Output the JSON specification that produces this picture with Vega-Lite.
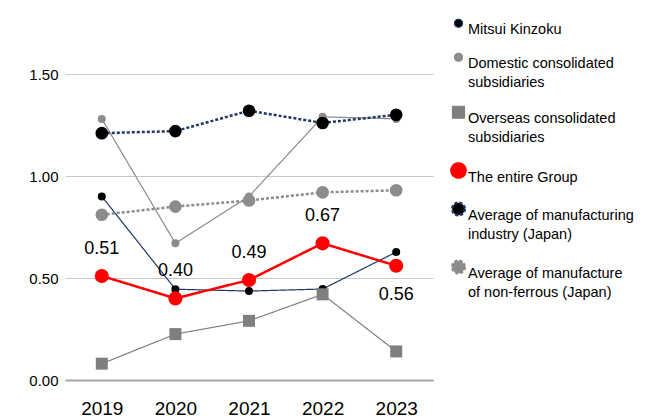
{
  "$schema": "https://vega.github.io/schema/vega-lite/v6.json",
  "width": 368,
  "height": 306,
  "autosize": {"type": "none"},
  "padding": {"left": 65, "top": 74, "right": 217, "bottom": 36},
  "background": "white",
  "config": {
    "view": {"stroke": null},
    "font": "Liberation Sans"
  },
  "data": {
    "values": [
      {"series": "Mitsui Kinzoku", "year": "2019", "value": 0.90},
      {"series": "Mitsui Kinzoku", "year": "2020", "value": 0.445},
      {"series": "Mitsui Kinzoku", "year": "2021", "value": 0.436},
      {"series": "Mitsui Kinzoku", "year": "2022", "value": 0.446},
      {"series": "Mitsui Kinzoku", "year": "2023", "value": 0.627},
      {"series": "Domestic consolidated subsidiaries", "year": "2019", "value": 1.28},
      {"series": "Domestic consolidated subsidiaries", "year": "2020", "value": 0.67},
      {"series": "Domestic consolidated subsidiaries", "year": "2021", "value": 0.90},
      {"series": "Domestic consolidated subsidiaries", "year": "2022", "value": 1.29},
      {"series": "Domestic consolidated subsidiaries", "year": "2023", "value": 1.28},
      {"series": "Overseas consolidated subsidiaries", "year": "2019", "value": 0.08},
      {"series": "Overseas consolidated subsidiaries", "year": "2020", "value": 0.225},
      {"series": "Overseas consolidated subsidiaries", "year": "2021", "value": 0.29},
      {"series": "Overseas consolidated subsidiaries", "year": "2022", "value": 0.42},
      {"series": "Overseas consolidated subsidiaries", "year": "2023", "value": 0.14},
      {"series": "The entire Group", "year": "2019", "value": 0.51},
      {"series": "The entire Group", "year": "2020", "value": 0.40},
      {"series": "The entire Group", "year": "2021", "value": 0.49},
      {"series": "The entire Group", "year": "2022", "value": 0.67},
      {"series": "The entire Group", "year": "2023", "value": 0.56},
      {"series": "Average of manufacturing industry (Japan)", "year": "2019", "value": 1.21},
      {"series": "Average of manufacturing industry (Japan)", "year": "2020", "value": 1.22},
      {"series": "Average of manufacturing industry (Japan)", "year": "2021", "value": 1.32},
      {"series": "Average of manufacturing industry (Japan)", "year": "2022", "value": 1.26},
      {"series": "Average of manufacturing industry (Japan)", "year": "2023", "value": 1.30},
      {"series": "Average of manufacture of non-ferrous (Japan)", "year": "2019", "value": 0.81},
      {"series": "Average of manufacture of non-ferrous (Japan)", "year": "2020", "value": 0.85},
      {"series": "Average of manufacture of non-ferrous (Japan)", "year": "2021", "value": 0.88},
      {"series": "Average of manufacture of non-ferrous (Japan)", "year": "2022", "value": 0.92},
      {"series": "Average of manufacture of non-ferrous (Japan)", "year": "2023", "value": 0.93}
    ]
  },
  "encoding": {
    "x": {
      "field": "year", "type": "ordinal",
      "scale": {"type": "point", "padding": 0.5},
      "axis": {"title": null, "labelAngle": 0, "labelFontSize": 19, "labelColor": "#000000", "labelPadding": 19, "ticks": false, "grid": false, "domainColor": "#a6a6a6", "domainWidth": 2}
    },
    "y": {
      "field": "value", "type": "quantitative",
      "scale": {"domain": [0, 1.5], "nice": false, "zero": true},
      "axis": {"title": null, "values": [0, 0.5, 1, 1.5], "format": ".2f", "labelFontSize": 15, "labelColor": "#000000", "labelPadding": 7, "ticks": false, "domain": false, "gridColor": "#c8c8c8", "gridWidth": 1}
    }
  },
  "layer": [
    {
      "mark": {"type": "line", "clip": false},
      "encoding": {
        "detail": {"field": "series"},
        "stroke": {
          "field": "series", "type": "nominal", "title": null,
          "scale": {
            "domain": ["Mitsui Kinzoku", "Domestic consolidated subsidiaries", "Overseas consolidated subsidiaries", "The entire Group", "Average of manufacturing industry (Japan)", "Average of manufacture of non-ferrous (Japan)"],
            "range": ["#1f3864", "#8c8c8c", "#7f7f7f", "#ff0000", "#1f3864", "#8c8c8c"]
          },
          "legend": {
            "title": null, "orient": "none", "legendX": 385, "legendY": -58, "columns": 1, "symbolOpacity": 1, "labelOffset": 1, "labelBaseline": "top", "labelFontSize": 14.5, "labelColor": "#000000", "labelLimit": 300, "rowPadding": 13,
            "labelExpr": "datum.label == 'Domestic consolidated subsidiaries' ? ['Domestic consolidated', 'subsidiaries'] : datum.label == 'Overseas consolidated subsidiaries' ? ['Overseas consolidated', 'subsidiaries'] : datum.label == 'Average of manufacturing industry (Japan)' ? ['Average of manufacturing', 'industry (Japan)'] : datum.label == 'Average of manufacture of non-ferrous (Japan)' ? ['Average of manufacture', 'of non-ferrous (Japan)'] : datum.label",
            "encode": {
              "labels": {"update": {"lineHeight": {"value": 19}}},
              "symbols": {"update": {
                "shape": {"signal": "datum.value == 'Overseas consolidated subsidiaries' ? 'M0,-4.4L2.4,-4.4L2.4,-2L0,-2ZM1.2,-3.2L8,-3.2' : datum.value == 'The entire Group' ? 'M-0.3,-3.2A1.5,1.5 0 1 0 2.7,-3.2A1.5,1.5 0 1 0 -0.3,-3.2ZM1.2,-3.2L8,-3.2' : (datum.value == 'Mitsui Kinzoku' || datum.value == 'Domestic consolidated subsidiaries') ? 'M0.3,-3.2A0.9,0.9 0 1 0 2.1,-3.2A0.9,0.9 0 1 0 0.3,-3.2ZM1.2,-3.2L8,-3.2' : 'M-0.2,-3.2A1.4,1.4 0 1 0 2.6,-3.2A1.4,1.4 0 1 0 -0.2,-3.2ZM1.2,-3.2L8,-3.2'"},
                "size": {"value": 100},
                "fill": {"scale": "fill", "field": "value"},
                "stroke": {"scale": "stroke", "field": "value"},
                "strokeDash": {"scale": "strokeDash", "field": "value"},
                "strokeWidth": {"scale": "strokeWidth", "field": "value"},
                "opacity": {"value": 1}
              }}
            }
          }
        },
        "strokeDash": {
          "field": "series", "type": "nominal", "title": null,
          "scale": {
            "domain": ["Mitsui Kinzoku", "Domestic consolidated subsidiaries", "Overseas consolidated subsidiaries", "The entire Group", "Average of manufacturing industry (Japan)", "Average of manufacture of non-ferrous (Japan)"],
            "range": [[1, 0], [1, 0], [1, 0], [1, 0], [3, 2], [3, 2]]
          },
          "legend": {
            "title": null, "orient": "none", "legendX": 385, "legendY": -58, "columns": 1, "symbolOpacity": 1, "labelOffset": 1, "labelBaseline": "top", "labelFontSize": 14.5, "labelColor": "#000000", "labelLimit": 300, "rowPadding": 13,
            "labelExpr": "datum.label == 'Domestic consolidated subsidiaries' ? ['Domestic consolidated', 'subsidiaries'] : datum.label == 'Overseas consolidated subsidiaries' ? ['Overseas consolidated', 'subsidiaries'] : datum.label == 'Average of manufacturing industry (Japan)' ? ['Average of manufacturing', 'industry (Japan)'] : datum.label == 'Average of manufacture of non-ferrous (Japan)' ? ['Average of manufacture', 'of non-ferrous (Japan)'] : datum.label",
            "encode": {
              "labels": {"update": {"lineHeight": {"value": 19}}},
              "symbols": {"update": {
                "shape": {"signal": "datum.value == 'Overseas consolidated subsidiaries' ? 'M0,-4.4L2.4,-4.4L2.4,-2L0,-2ZM1.2,-3.2L8,-3.2' : datum.value == 'The entire Group' ? 'M-0.3,-3.2A1.5,1.5 0 1 0 2.7,-3.2A1.5,1.5 0 1 0 -0.3,-3.2ZM1.2,-3.2L8,-3.2' : (datum.value == 'Mitsui Kinzoku' || datum.value == 'Domestic consolidated subsidiaries') ? 'M0.3,-3.2A0.9,0.9 0 1 0 2.1,-3.2A0.9,0.9 0 1 0 0.3,-3.2ZM1.2,-3.2L8,-3.2' : 'M-0.2,-3.2A1.4,1.4 0 1 0 2.6,-3.2A1.4,1.4 0 1 0 -0.2,-3.2ZM1.2,-3.2L8,-3.2'"},
                "size": {"value": 100},
                "fill": {"scale": "fill", "field": "value"},
                "stroke": {"scale": "stroke", "field": "value"},
                "strokeDash": {"scale": "strokeDash", "field": "value"},
                "strokeWidth": {"scale": "strokeWidth", "field": "value"},
                "opacity": {"value": 1}
              }}
            }
          }
        },
        "strokeWidth": {
          "field": "series", "type": "nominal", "title": null,
          "scale": {
            "type": "ordinal",
            "domain": ["Mitsui Kinzoku", "Domestic consolidated subsidiaries", "Overseas consolidated subsidiaries", "The entire Group", "Average of manufacturing industry (Japan)", "Average of manufacture of non-ferrous (Japan)"],
            "range": [1.2, 1.2, 1.2, 2.5, 2.5, 2.5]
          },
          "legend": {
            "title": null, "orient": "none", "legendX": 385, "legendY": -58, "columns": 1, "symbolOpacity": 1, "labelOffset": 1, "labelBaseline": "top", "labelFontSize": 14.5, "labelColor": "#000000", "labelLimit": 300, "rowPadding": 13,
            "labelExpr": "datum.label == 'Domestic consolidated subsidiaries' ? ['Domestic consolidated', 'subsidiaries'] : datum.label == 'Overseas consolidated subsidiaries' ? ['Overseas consolidated', 'subsidiaries'] : datum.label == 'Average of manufacturing industry (Japan)' ? ['Average of manufacturing', 'industry (Japan)'] : datum.label == 'Average of manufacture of non-ferrous (Japan)' ? ['Average of manufacture', 'of non-ferrous (Japan)'] : datum.label",
            "encode": {
              "labels": {"update": {"lineHeight": {"value": 19}}},
              "symbols": {"update": {
                "shape": {"signal": "datum.value == 'Overseas consolidated subsidiaries' ? 'M0,-4.4L2.4,-4.4L2.4,-2L0,-2ZM1.2,-3.2L8,-3.2' : datum.value == 'The entire Group' ? 'M-0.3,-3.2A1.5,1.5 0 1 0 2.7,-3.2A1.5,1.5 0 1 0 -0.3,-3.2ZM1.2,-3.2L8,-3.2' : (datum.value == 'Mitsui Kinzoku' || datum.value == 'Domestic consolidated subsidiaries') ? 'M0.3,-3.2A0.9,0.9 0 1 0 2.1,-3.2A0.9,0.9 0 1 0 0.3,-3.2ZM1.2,-3.2L8,-3.2' : 'M-0.2,-3.2A1.4,1.4 0 1 0 2.6,-3.2A1.4,1.4 0 1 0 -0.2,-3.2ZM1.2,-3.2L8,-3.2'"},
                "size": {"value": 100},
                "fill": {"scale": "fill", "field": "value"},
                "stroke": {"scale": "stroke", "field": "value"},
                "strokeDash": {"scale": "strokeDash", "field": "value"},
                "strokeWidth": {"scale": "strokeWidth", "field": "value"},
                "opacity": {"value": 1}
              }}
            }
          }
        }
      }
    },
    {
      "mark": {"type": "point", "filled": true, "opacity": 1},
      "encoding": {
        "shape": {
          "field": "series", "type": "nominal", "title": null,
          "scale": {
            "domain": ["Mitsui Kinzoku", "Domestic consolidated subsidiaries", "Overseas consolidated subsidiaries", "The entire Group", "Average of manufacturing industry (Japan)", "Average of manufacture of non-ferrous (Japan)"],
            "range": ["circle", "circle", "square", "circle", "circle", "circle"]
          },
          "legend": {
            "title": null, "orient": "none", "legendX": 385, "legendY": -58, "columns": 1, "symbolOpacity": 1, "labelOffset": 1, "labelBaseline": "top", "labelFontSize": 14.5, "labelColor": "#000000", "labelLimit": 300, "rowPadding": 13,
            "labelExpr": "datum.label == 'Domestic consolidated subsidiaries' ? ['Domestic consolidated', 'subsidiaries'] : datum.label == 'Overseas consolidated subsidiaries' ? ['Overseas consolidated', 'subsidiaries'] : datum.label == 'Average of manufacturing industry (Japan)' ? ['Average of manufacturing', 'industry (Japan)'] : datum.label == 'Average of manufacture of non-ferrous (Japan)' ? ['Average of manufacture', 'of non-ferrous (Japan)'] : datum.label",
            "encode": {
              "labels": {"update": {"lineHeight": {"value": 19}}},
              "symbols": {"update": {
                "shape": {"signal": "datum.value == 'Overseas consolidated subsidiaries' ? 'M0,-4.4L2.4,-4.4L2.4,-2L0,-2ZM1.2,-3.2L8,-3.2' : datum.value == 'The entire Group' ? 'M-0.3,-3.2A1.5,1.5 0 1 0 2.7,-3.2A1.5,1.5 0 1 0 -0.3,-3.2ZM1.2,-3.2L8,-3.2' : (datum.value == 'Mitsui Kinzoku' || datum.value == 'Domestic consolidated subsidiaries') ? 'M0.3,-3.2A0.9,0.9 0 1 0 2.1,-3.2A0.9,0.9 0 1 0 0.3,-3.2ZM1.2,-3.2L8,-3.2' : 'M-0.2,-3.2A1.4,1.4 0 1 0 2.6,-3.2A1.4,1.4 0 1 0 -0.2,-3.2ZM1.2,-3.2L8,-3.2'"},
                "size": {"value": 100},
                "fill": {"scale": "fill", "field": "value"},
                "stroke": {"scale": "stroke", "field": "value"},
                "strokeDash": {"scale": "strokeDash", "field": "value"},
                "strokeWidth": {"scale": "strokeWidth", "field": "value"},
                "opacity": {"value": 1}
              }}
            }
          }
        },
        "size": {
          "field": "series", "type": "nominal", "title": null,
          "scale": {
            "type": "ordinal",
            "domain": ["Mitsui Kinzoku", "Domestic consolidated subsidiaries", "Overseas consolidated subsidiaries", "The entire Group", "Average of manufacturing industry (Japan)", "Average of manufacture of non-ferrous (Japan)"],
            "range": [64, 64, 144, 200, 160, 160]
          },
          "legend": {
            "title": null, "orient": "none", "legendX": 385, "legendY": -58, "columns": 1, "symbolOpacity": 1, "labelOffset": 1, "labelBaseline": "top", "labelFontSize": 14.5, "labelColor": "#000000", "labelLimit": 300, "rowPadding": 13,
            "labelExpr": "datum.label == 'Domestic consolidated subsidiaries' ? ['Domestic consolidated', 'subsidiaries'] : datum.label == 'Overseas consolidated subsidiaries' ? ['Overseas consolidated', 'subsidiaries'] : datum.label == 'Average of manufacturing industry (Japan)' ? ['Average of manufacturing', 'industry (Japan)'] : datum.label == 'Average of manufacture of non-ferrous (Japan)' ? ['Average of manufacture', 'of non-ferrous (Japan)'] : datum.label",
            "encode": {
              "labels": {"update": {"lineHeight": {"value": 19}}},
              "symbols": {"update": {
                "shape": {"signal": "datum.value == 'Overseas consolidated subsidiaries' ? 'M0,-4.4L2.4,-4.4L2.4,-2L0,-2ZM1.2,-3.2L8,-3.2' : datum.value == 'The entire Group' ? 'M-0.3,-3.2A1.5,1.5 0 1 0 2.7,-3.2A1.5,1.5 0 1 0 -0.3,-3.2ZM1.2,-3.2L8,-3.2' : (datum.value == 'Mitsui Kinzoku' || datum.value == 'Domestic consolidated subsidiaries') ? 'M0.3,-3.2A0.9,0.9 0 1 0 2.1,-3.2A0.9,0.9 0 1 0 0.3,-3.2ZM1.2,-3.2L8,-3.2' : 'M-0.2,-3.2A1.4,1.4 0 1 0 2.6,-3.2A1.4,1.4 0 1 0 -0.2,-3.2ZM1.2,-3.2L8,-3.2'"},
                "size": {"value": 100},
                "fill": {"scale": "fill", "field": "value"},
                "stroke": {"scale": "stroke", "field": "value"},
                "strokeDash": {"scale": "strokeDash", "field": "value"},
                "strokeWidth": {"scale": "strokeWidth", "field": "value"},
                "opacity": {"value": 1}
              }}
            }
          }
        },
        "fill": {
          "field": "series", "type": "nominal", "title": null,
          "scale": {
            "domain": ["Mitsui Kinzoku", "Domestic consolidated subsidiaries", "Overseas consolidated subsidiaries", "The entire Group", "Average of manufacturing industry (Japan)", "Average of manufacture of non-ferrous (Japan)"],
            "range": ["#000000", "#8c8c8c", "#7f7f7f", "#ff0000", "#000000", "#8c8c8c"]
          },
          "legend": {
            "title": null, "orient": "none", "legendX": 385, "legendY": -58, "columns": 1, "symbolOpacity": 1, "labelOffset": 1, "labelBaseline": "top", "labelFontSize": 14.5, "labelColor": "#000000", "labelLimit": 300, "rowPadding": 13,
            "labelExpr": "datum.label == 'Domestic consolidated subsidiaries' ? ['Domestic consolidated', 'subsidiaries'] : datum.label == 'Overseas consolidated subsidiaries' ? ['Overseas consolidated', 'subsidiaries'] : datum.label == 'Average of manufacturing industry (Japan)' ? ['Average of manufacturing', 'industry (Japan)'] : datum.label == 'Average of manufacture of non-ferrous (Japan)' ? ['Average of manufacture', 'of non-ferrous (Japan)'] : datum.label",
            "encode": {
              "labels": {"update": {"lineHeight": {"value": 19}}},
              "symbols": {"update": {
                "shape": {"signal": "datum.value == 'Overseas consolidated subsidiaries' ? 'M0,-4.4L2.4,-4.4L2.4,-2L0,-2ZM1.2,-3.2L8,-3.2' : datum.value == 'The entire Group' ? 'M-0.3,-3.2A1.5,1.5 0 1 0 2.7,-3.2A1.5,1.5 0 1 0 -0.3,-3.2ZM1.2,-3.2L8,-3.2' : (datum.value == 'Mitsui Kinzoku' || datum.value == 'Domestic consolidated subsidiaries') ? 'M0.3,-3.2A0.9,0.9 0 1 0 2.1,-3.2A0.9,0.9 0 1 0 0.3,-3.2ZM1.2,-3.2L8,-3.2' : 'M-0.2,-3.2A1.4,1.4 0 1 0 2.6,-3.2A1.4,1.4 0 1 0 -0.2,-3.2ZM1.2,-3.2L8,-3.2'"},
                "size": {"value": 100},
                "fill": {"scale": "fill", "field": "value"},
                "stroke": {"scale": "stroke", "field": "value"},
                "strokeDash": {"scale": "strokeDash", "field": "value"},
                "strokeWidth": {"scale": "strokeWidth", "field": "value"},
                "opacity": {"value": 1}
              }}
            }
          }
        }
      }
    },
    {
      "transform": [{"filter": "datum.series == 'The entire Group' && datum.year != '2023'"}],
      "mark": {"type": "text", "dy": -27, "fontSize": 18, "color": "#000000"},
      "encoding": {"text": {"field": "value", "type": "quantitative", "format": ".2f"}}
    },
    {
      "transform": [{"filter": "datum.series == 'The entire Group' && datum.year == '2023'"}],
      "mark": {"type": "text", "dy": 29, "fontSize": 18, "color": "#000000"},
      "encoding": {"text": {"field": "value", "type": "quantitative", "format": ".2f"}}
    }
  ]
}
